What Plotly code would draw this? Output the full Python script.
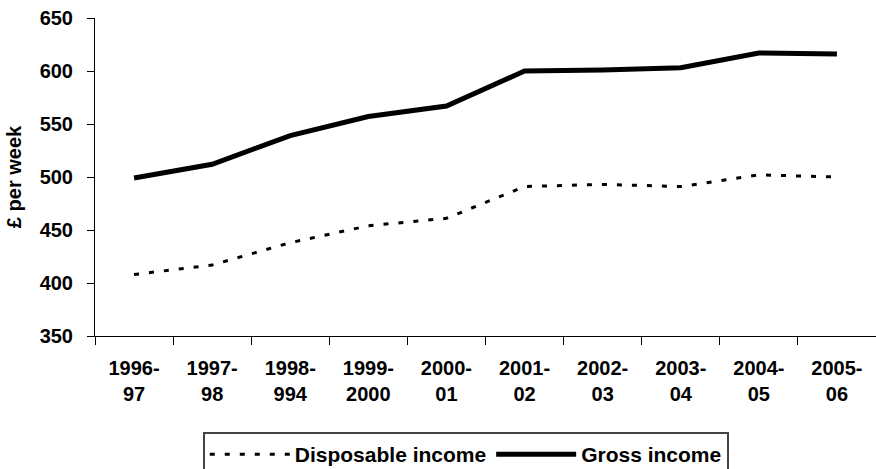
import plotly.graph_objects as go

categories = ["1996-<br>97", "1997-<br>98", "1998-<br>994", "1999-<br>2000", "2000-<br>01",
              "2001-<br>02", "2002-<br>03", "2003-<br>04", "2004-<br>05", "2005-<br>06"]
disposable = [408, 417, 438, 454, 461, 491, 493, 491, 502, 500]
gross = [499, 512, 539, 557, 567, 600, 601, 603, 617, 616]
y_ticks = [350, 400, 450, 500, 550, 600, 650]

FONT = "Liberation Sans, Arial, sans-serif"

fig = go.Figure()
fig.add_trace(go.Scatter(x=categories, y=disposable, name="Disposable income",
                         mode="lines", line=dict(color="black", width=3, dash="5px,10px")))
fig.add_trace(go.Scatter(x=categories, y=gross, name="Gross income",
                         mode="lines", line=dict(color="black", width=5)))

fig.update_layout(
    width=876, height=469,
    margin=dict(l=95, r=0, t=18, b=133, autoexpand=False),
    paper_bgcolor="white", plot_bgcolor="white",
    font=dict(family=FONT, color="black", weight="bold"),
    showlegend=True,
    legend=dict(orientation="h", xanchor="left", yanchor="top", x=0.138, y=-0.302,
                bordercolor="#444", borderwidth=2,
                font=dict(size=21, family=FONT, weight="bold"),
                itemwidth=80, tracegroupgap=0, bgcolor="white"),
    xaxis=dict(type="category", range=[-0.5, 9.5], showline=True, linecolor="black", linewidth=1,
               ticks="outside", tickson="boundaries", ticklen=8, tickcolor="black",
               showgrid=False, tickfont=dict(size=20, family=FONT, weight="bold"),
               ticklabelstandoff=14, automargin=False),
    yaxis=dict(range=[350, 650], tickvals=y_ticks,
               showline=True, linecolor="black", linewidth=1, ticks="outside", ticklen=7,
               tickcolor="black", showgrid=False, zeroline=False, automargin=False,
               tickfont=dict(size=20, family=FONT, weight="bold"), ticklabelstandoff=10,
               title=dict(text="£ per week", font=dict(size=20, family=FONT, weight="bold"),
                          standoff=12)),
)

fig.write_html("out.html")
